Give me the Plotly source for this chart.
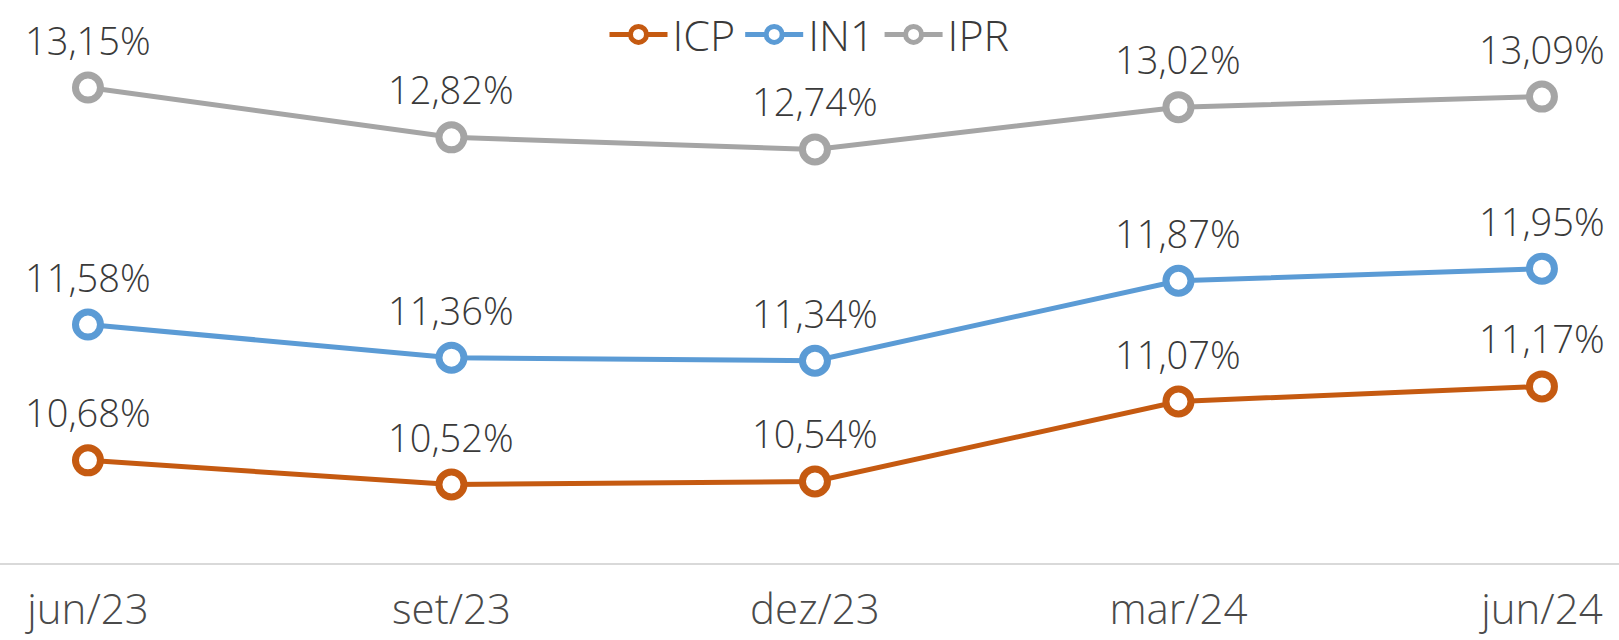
import plotly.graph_objects as go

categories = ["jun/23", "set/23", "dez/23", "mar/24", "jun/24"]
icp = [10.68, 10.52, 10.54, 11.07, 11.17]
in1 = [11.58, 11.36, 11.34, 11.87, 11.95]
ipr = [13.15, 12.82, 12.74, 13.02, 13.09]

series = [("ICP", icp, "#C55A11"), ("IN1", in1, "#5B9BD5"), ("IPR", ipr, "#A5A5A5")]

FONT = "Open Sans"
TEXT_COLOR = "#3A3A3A"

fig = go.Figure()
for name, vals, color in series:
    fig.add_trace(go.Scatter(
        x=categories, y=vals, name=name,
        mode="lines+markers",
        line=dict(color=color, width=5),
        marker=dict(size=25, color="white", line=dict(color=color, width=7)),
        cliponaxis=False,
    ))
    for c, v in zip(categories, vals):
        fig.add_annotation(
            x=c, y=v, xref="x", yref="y",
            text=f"{v:.2f}".replace(".", ",") + "%",
            showarrow=False, yshift=48,
            font=dict(family=FONT, size=38, color=TEXT_COLOR, weight=300),
        )

fig.update_layout(
    width=1619, height=640,
    margin=dict(l=0, r=0, t=0, b=77, autoexpand=False),
    paper_bgcolor="white", plot_bgcolor="white",
    font=dict(family=FONT, color=TEXT_COLOR, weight=300),
    legend=dict(orientation="h", x=0.5, xanchor="center", y=1.0, yanchor="top",
                font=dict(family=FONT, size=43, color=TEXT_COLOR, weight=300),
                bgcolor="rgba(0,0,0,0)", itemwidth=58),
    xaxis=dict(type="category", range=[-0.242, 4.212], showgrid=False,
               showline=True, linecolor="#D9D9D9", linewidth=2, automargin=False,
               ticks="", ticklabelstandoff=9,
               tickfont=dict(family=FONT, size=42, color="#4A4A4A", weight=300)),
    yaxis=dict(range=[10.0, 13.73], showgrid=False, zeroline=False, automargin=False,
               showticklabels=False, showline=False),
)

fig.write_html("out.html", config={"displayModeBar": False},
               post_script="document.body.style.margin='0';document.body.style.overflow='hidden';")
